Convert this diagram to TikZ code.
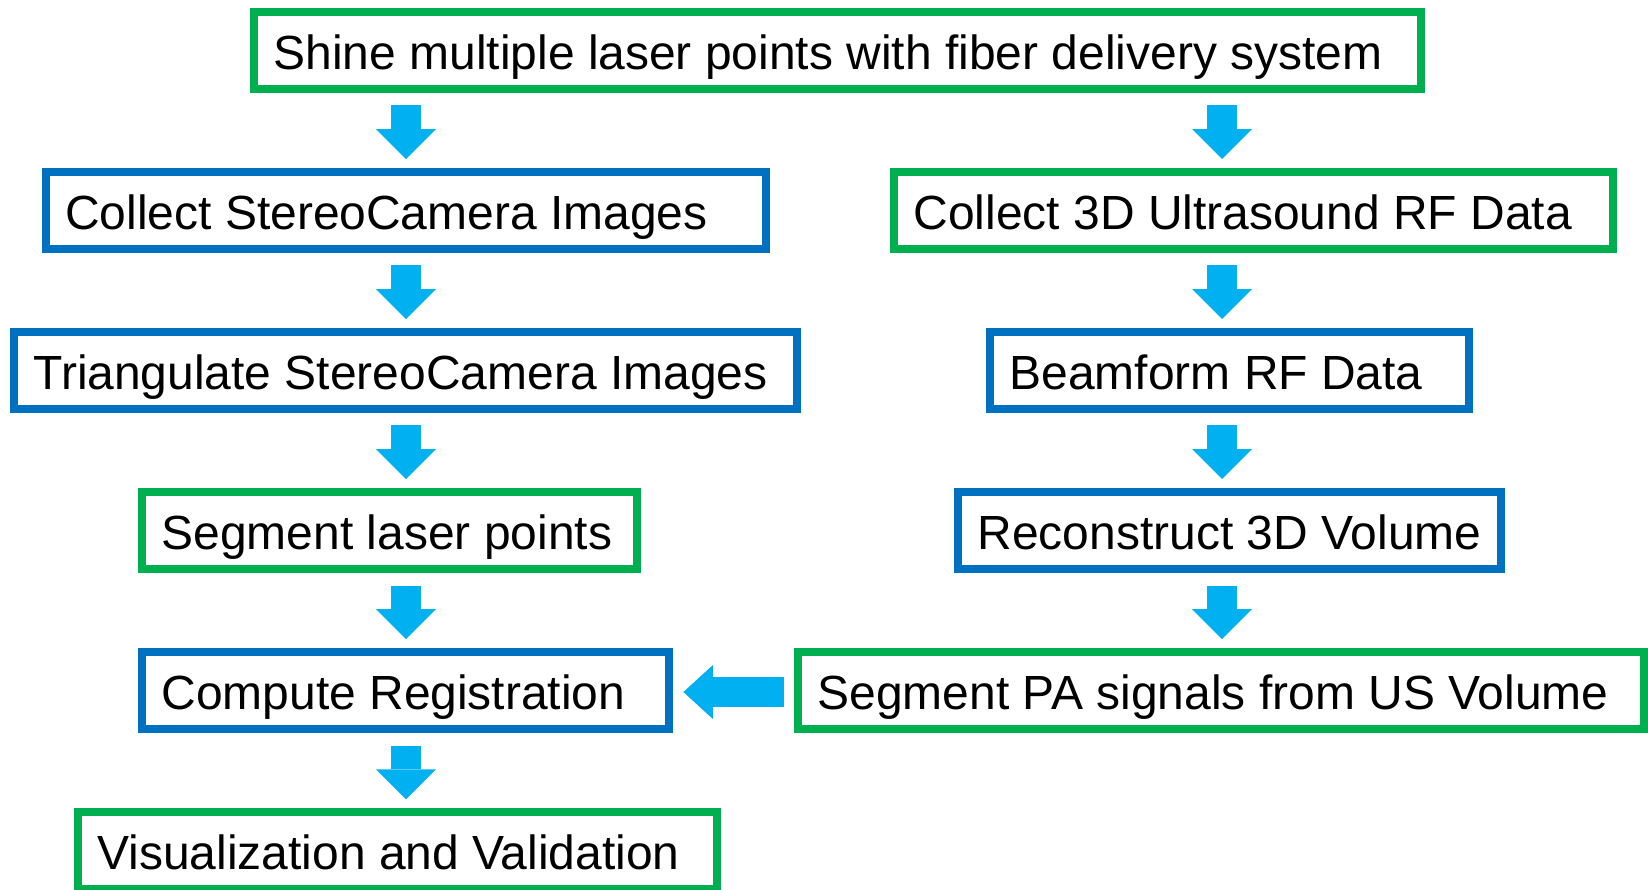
\documentclass[tikz,border=0pt]{standalone}
\usepackage{fontspec}
\setmainfont{Liberation Sans}
\usepackage{xcolor}
\usetikzlibrary{arrows.meta}
\usetikzlibrary{calc}

\definecolor{boxgreen}{RGB}{0,176,80}
\definecolor{boxblue}{RGB}{0,112,192}
\definecolor{arrowcyan}{RGB}{0,176,240}

\begin{document}
\begin{tikzpicture}[x=0.02cm, y=-0.02cm,
  box/.style={draw, line width=0.16cm, anchor=west, minimum height=1.54cm,
    inner xsep=0.39cm, inner ysep=0.1cm, text height=1.0cm, text depth=0.25cm,
    align=flush left, font=\fontsize{27.3pt}{32pt}\selectfont},
  greenbox/.style={box, draw=boxgreen},
  bluebox/.style={box, draw=boxblue},
  downarrow/.style={draw=arrowcyan, line width=0.6cm,
    -{Triangle[length=0.6cm, width=1.2cm, line width=0pt]}},
  sidearrow/.style={draw=arrowcyan, line width=0.59cm,
    -{Triangle[length=0.59cm, width=1.08cm, line width=0pt]}}]
\useasboundingbox (0,0) rectangle (1648,889);
%
\coordinate (lcol) at (406,0);
\coordinate (rcol) at (1222,0);
%
\node[greenbox, text width=22.57cm] (shine) at (250,50.3) {Shine multiple laser points with fiber delivery system};
%
\node[bluebox, text width=13.63cm] (collect) at (41.7,210.5) {Collect StereoCamera Images};
\node[bluebox, text width=14.89cm] (triangulate) at (10,370.5) {Triangulate StereoCamera Images};
\node[greenbox, text width=9.13cm] (seglaser) at (138,530.5) {Segment laser points};
\node[bluebox, text width=9.77cm] (compute) at (138,690.7) {Compute Registration};
\node[greenbox, text width=12.01cm] (visual) at (74,850.8) {Visualization and Validation};
%
\node[greenbox, text width=13.61cm] (collectus) at (890,210.5) {Collect 3D Ultrasound RF Data};
\node[bluebox, text width=8.81cm] (beamform) at (986,370.5) {Beamform RF Data};
\node[bluebox, text width=10.09cm] (reconstruct) at (954,530.5) {Reconstruct 3D Volume};
\node[greenbox, text width=16.14cm] (segpa) at (794,690.7) {Segment PA signals from US Volume};
%
\draw[downarrow] ($(shine.south -| lcol)+(0,12.5)$) -- ($(collect.north -| lcol)+(0,-9)$);
\draw[downarrow] ($(collect.south -| lcol)+(0,12.5)$) -- ($(triangulate.north -| lcol)+(0,-9)$);
\draw[downarrow] ($(triangulate.south -| lcol)+(0,12.5)$) -- ($(seglaser.north -| lcol)+(0,-9)$);
\draw[downarrow] ($(seglaser.south -| lcol)+(0,12.5)$) -- ($(compute.north -| lcol)+(0,-9)$);
\draw[downarrow] ($(compute.south -| lcol)+(0,12.5)$) -- ($(visual.north -| lcol)+(0,-9)$);
%
\draw[downarrow] ($(shine.south -| rcol)+(0,12.5)$) -- ($(collectus.north -| rcol)+(0,-9)$);
\draw[downarrow] ($(collectus.south -| rcol)+(0,12.5)$) -- ($(beamform.north -| rcol)+(0,-9)$);
\draw[downarrow] ($(beamform.south -| rcol)+(0,12.5)$) -- ($(reconstruct.north -| rcol)+(0,-9)$);
\draw[downarrow] ($(reconstruct.south -| rcol)+(0,12.5)$) -- ($(segpa.north -| rcol)+(0,-9)$);
%
\draw[sidearrow] ($(segpa.west)+(-9.7,1.3)$) -- ($(compute.east)+(10,1.3)$);
\end{tikzpicture}
\end{document}
